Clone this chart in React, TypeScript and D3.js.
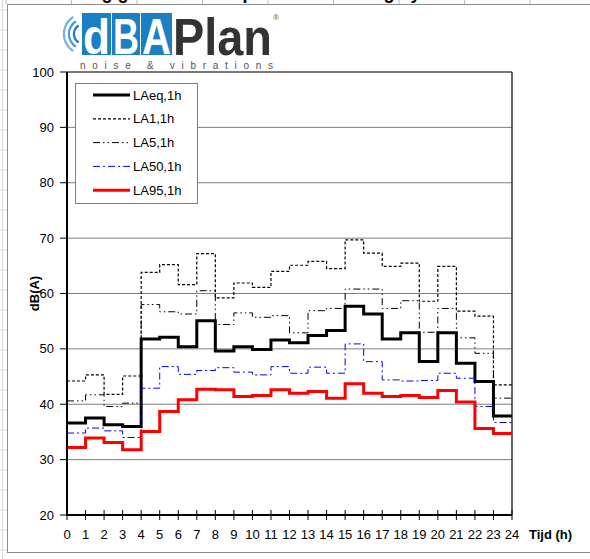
import React from 'react';
import * as d3 from 'd3';

// hourly levels (dB(A)), one value per hour 0..23
const LAeq = [36.6, 37.5, 36.3, 36.0, 51.8, 52.1, 50.4, 55.1, 49.6, 50.4, 49.9, 51.6, 51.1, 52.4, 53.3, 57.7, 56.3, 51.8, 52.9, 47.7, 52.9, 47.4, 44.1, 37.9];
const LA1 = [44.2, 45.3, 41.8, 45.1, 63.8, 65.2, 61.6, 67.2, 59.2, 61.9, 61.1, 64.0, 65.1, 65.8, 64.5, 69.7, 67.3, 64.9, 65.5, 58.6, 64.9, 56.8, 55.9, 43.5];
const LA5 = [40.6, 41.7, 39.6, 40.2, 58.0, 56.7, 56.3, 60.5, 54.4, 56.5, 55.7, 56.0, 52.9, 56.9, 57.3, 60.8, 60.8, 57.3, 58.7, 53.0, 57.3, 52.0, 49.2, 41.1];
const LA50 = [34.8, 35.7, 35.2, 34.0, 42.9, 46.8, 45.4, 46.1, 46.6, 45.8, 45.3, 46.8, 45.6, 46.7, 45.6, 50.9, 47.7, 44.4, 44.2, 44.3, 45.6, 44.7, 39.6, 36.7];
const LA95 = [32.2, 33.9, 33.1, 31.8, 35.1, 38.7, 40.8, 42.7, 42.6, 41.4, 41.6, 42.6, 42.0, 42.3, 41.1, 43.7, 42.0, 41.4, 41.6, 41.2, 42.5, 40.4, 35.6, 34.7];

const xTicks = d3.range(0, 25);
const yTicks = [20, 30, 40, 50, 60, 70, 80, 90, 100];

const series = [
  { name: 'LAeq,1h', values: LAeq, color: '#000', width: 3, dash: '' },
  { name: 'LA1,1h', values: LA1, color: '#000', width: 1.2, dash: '3,2' },
  { name: 'LA5,1h', values: LA5, color: '#000', width: 1, dash: '7,3,1.5,3,1.5,3' },
  { name: 'LA50,1h', values: LA50, color: '#0000ff', width: 1, dash: '7,3,2,3' },
  { name: 'LA95,1h', values: LA95, color: '#ff0000', width: 3, dash: '' },
];

const font = '"Liberation Sans", Arial, sans-serif';

export default function App() {
  const W = 590, H = 559;
  const left = 67, right = 512, top = 72, bottom = 515;

  const x = d3.scaleLinear().domain([0, 24]).range([left, right]);
  const y = d3.scaleLinear().domain([20, 100]).range([bottom, top]);

  const line = d3.line<[number, number]>()
    .x(d => x(d[0]))
    .y(d => y(d[1]))
    .curve(d3.curveStepAfter);

  const pathFor = (vals: number[]) => {
    const pts: [number, number][] = vals.map((v, i) => [i, v]);
    pts.push([24, vals[vals.length - 1]]);
    return line(pts) || '';
  };

  // spreadsheet cell lines behind the chart
  const rowLines = d3.range(10, H, 20);
  const colLines = d3.range(6, W, 65.5);

  const waves = [9, 14, 19];
  const arc = d3.arc();

  return (
    <svg width={W} height={H} style={{ position: 'absolute', left: 0, top: 0, background: '#fff' }}>
      {rowLines.map(r => (
        <line key={'r' + r} x1={0} x2={7} y1={r} y2={r} stroke="#d9d9d9" />
      ))}
      {colLines.map(c => (
        <line key={'c' + c} x1={c} x2={c} y1={0} y2={4} stroke="#bbb" />
      ))}
      <line x1={2.5} x2={2.5} y1={0} y2={H} stroke="#d9d9d9" />

      {/* chart area */}
      <rect x={7.5} y={4.5} width={W} height={548} fill="#fff" stroke="#8c8c8c" />

      {/* title, mostly above the visible area */}
      <text x={230} y={-1} textAnchor="middle" fontFamily={font} fontWeight="bold" fontSize={18}>
        Meetdag geluidsniveau per uur - zaterdag by
      </text>

      {/* logo */}
      <g>
        {waves.map((r, i) => (
          <path key={r} transform="translate(84,34)"
            d={arc({ innerRadius: r, outerRadius: r + 2.2, startAngle: -Math.PI * 0.82, endAngle: -Math.PI * 0.18 }) || ''}
            fill="#1a7fc4" opacity={1 - i * 0.2} />
        ))}
        <rect x={82} y={13} width={29} height={42} fill="#1a7fc4" />
        <rect x={112} y={13} width={28} height={42} fill="#1a7fc4" />
        <rect x={141} y={13} width={31} height={42} fill="#1a7fc4" />
        <text x={83} y={54} fontFamily={font} fontWeight="bold" fontSize={50} fill="#fff" textLength={27} lengthAdjust="spacingAndGlyphs">d</text>
        <text x={113} y={54} fontFamily={font} fontWeight="bold" fontSize={50} fill="#fff" textLength={26} lengthAdjust="spacingAndGlyphs">B</text>
        <text x={142} y={54} fontFamily={font} fontWeight="bold" fontSize={50} fill="#fff" textLength={29} lengthAdjust="spacingAndGlyphs">A</text>
        <text x={173} y={55} fontFamily={font} fontWeight="bold" fontSize={52} fill="#333" textLength={99} lengthAdjust="spacingAndGlyphs">Plan</text>
        <text x={273} y={20} fontFamily={font} fontSize={8} fill="#555">®</text>
        <text x={80} y={69} fontFamily={font} fontSize={10} fill="#555" textLength={193} lengthAdjust="spacing">noise &amp; vibrations</text>
      </g>

      {/* grid */}
      {yTicks.map(t => (
        <g key={'y' + t}>
          <line x1={left} x2={right} y1={y(t)} y2={y(t)} stroke="#7f7f7f" strokeWidth={1} />
          <line x1={left - 7} x2={left} y1={y(t)} y2={y(t)} stroke="#000" />
          <text x={left - 13} y={y(t) + 4.5} textAnchor="end" fontFamily={font} fontSize={13}>{t}</text>
        </g>
      ))}
      <line x1={right} x2={right} y1={top} y2={bottom} stroke="#333" strokeWidth={1.5} />
      <line x1={left} x2={right} y1={top} y2={top} stroke="#333" strokeWidth={1.2} />

      {/* series */}
      {series.map(s => (
        <path key={s.name} d={pathFor(s.values)} fill="none" stroke={s.color}
          strokeWidth={s.width} strokeDasharray={s.dash || undefined} strokeLinejoin="miter" />
      ))}

      {/* axes */}
      <line x1={left} x2={left} y1={top} y2={bottom + 1} stroke="#000" strokeWidth={2} />
      <line x1={left} x2={right} y1={bottom} y2={bottom} stroke="#000" strokeWidth={2} />
      {xTicks.map(t => (
        <g key={'x' + t}>
          <line x1={x(t)} x2={x(t)} y1={bottom - 5} y2={bottom + 5} stroke="#000" />
          <text x={x(t)} y={bottom + 24} textAnchor="middle" fontFamily={font} fontSize={13}>{t}</text>
        </g>
      ))}
      <text x={529} y={bottom + 24} fontFamily={font} fontSize={13} fontWeight="bold">Tijd (h)</text>
      <text transform={`translate(39,${(top + bottom) / 2}) rotate(-90)`} textAnchor="middle"
        fontFamily={font} fontSize={13} fontWeight="bold">dB(A)</text>

      {/* legend */}
      <rect x={75.5} y={83.5} width={122} height={120} fill="#fff" stroke="#7f7f7f" />
      {series.map((s, i) => {
        const ly = 95 + i * 23.8;
        return (
          <g key={'l' + s.name}>
            <line x1={93} x2={130} y1={ly} y2={ly} stroke={s.color} strokeWidth={s.width}
              strokeDasharray={s.dash || undefined} />
            <text x={133} y={ly + 4.5} fontFamily={font} fontSize={13}>{s.name}</text>
          </g>
        );
      })}
    </svg>
  );
}
